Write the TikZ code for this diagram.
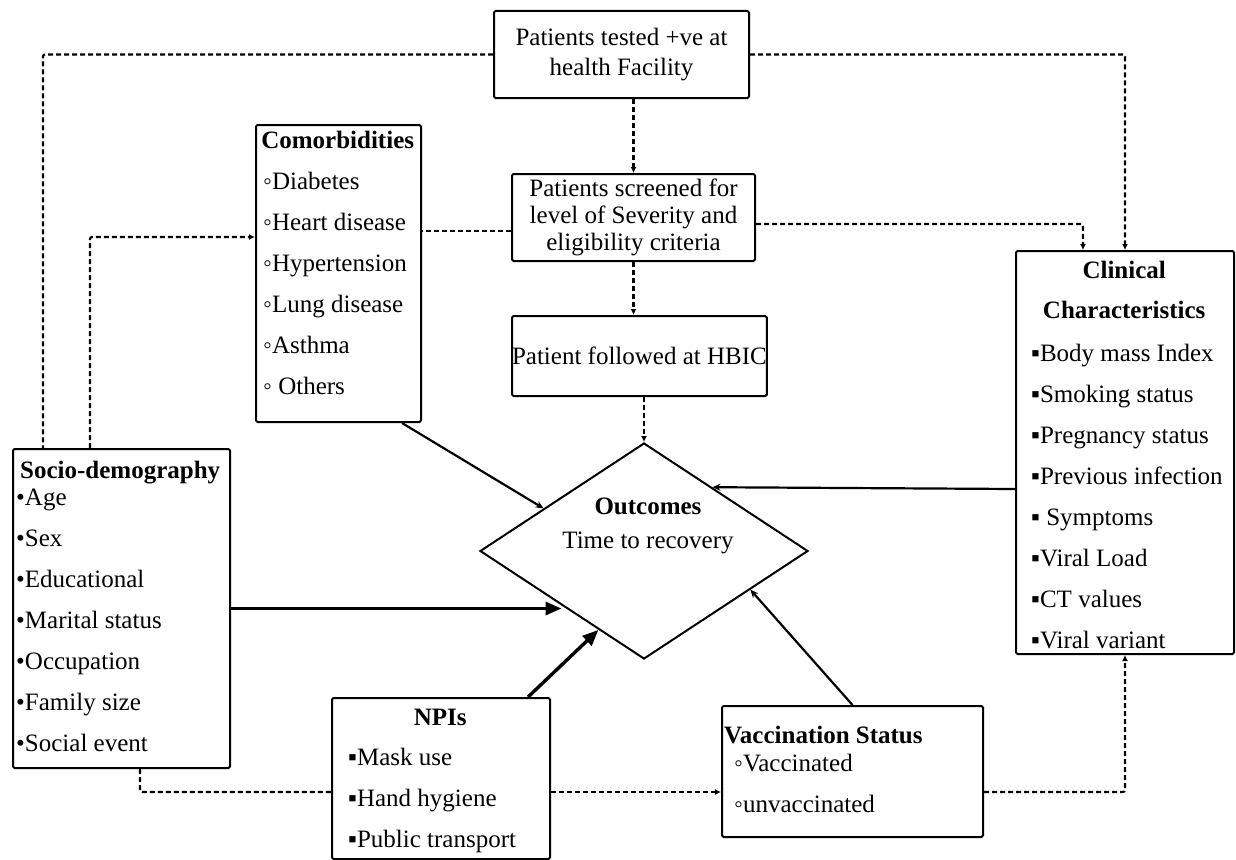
\documentclass[tikz,border=0pt]{standalone}
\usepackage{fontspec}
\setmainfont{Liberation Serif}
\usetikzlibrary{
    shapes.geometric,
    arrows.meta,
    positioning,
    calc
}

\begin{document}
\begin{tikzpicture}[
    x=1pt, y=-1pt,
    boxframe/.style={draw, line width=2pt, rounded corners=1.5pt, fill=white, inner sep=0pt, anchor=north west},
    plaintext/.style={font=\fontsize{25}{#1}\selectfont, align=center, inner sep=0pt},
    listtext/.style={anchor=north west, inner sep=0pt, align=left, font=\fontsize{25}{41}\selectfont},
    dashlink/.style={line width=2.1pt, dash pattern=on 5pt off 3pt, rounded corners=2pt},
    dasharrow/.style={dashlink, -{Latex[length=6pt,width=6pt]}},
    thinarrow/.style={line width=2.2pt, -{Stealth[length=8pt,width=7pt]}},
    thickarrow/.style={line width=3.4pt, -{Triangle[length=16pt,width=13pt]}}
]
    \useasboundingbox (0,0) rectangle (1236,859);

    \node[boxframe, minimum width=255pt, minimum height=87pt, plaintext=30] (tested) at (493,10) {Patients tested +ve at\\health Facility};
    \node[boxframe, minimum width=243pt, minimum height=87pt, plaintext=27] (screened) at (511,173) {Patients screened for\\level of Severity and\\eligibility criteria};
    \node[boxframe, minimum width=254pt, minimum height=80pt, plaintext=30] (hbic) at (511,315) {Patient followed at HBIC};

    \node[boxframe, minimum width=165pt, minimum height=297pt] (comorb) at (255,124) {};
    \node[listtext] (comorbtxt) at (263,131) {\makebox[149pt]{\textbf{Comorbidities}}\\◦Diabetes\\◦Heart disease\\◦Hypertension\\◦Lung disease\\◦Asthma\\◦ Others};

    \node[boxframe, minimum width=217pt, minimum height=319pt] (socio) at (12,448) {};
    \node[listtext] (sociotxt) at (16,461) {\makebox[208pt]{\textbf{Socio-demography}}\\[-14pt]•Age\\•Sex\\•Educational\\•Marital status\\•Occupation\\•Family size\\•Social event};

    \node[boxframe, minimum width=218pt, minimum height=403pt] (clinical) at (1015,250) {};
    \node[listtext] (clinicaltxt) at (1031,261) {\makebox[186pt]{\textbf{Clinical}}\\[-1pt]\makebox[186pt]{\textbf{Characteristics}}\\[2pt]▪Body mass Index\\▪Smoking status\\▪Pregnancy status\\▪Previous infection\\▪ Symptoms\\▪Viral Load\\▪CT values\\▪Viral variant};

    \node[boxframe, minimum width=218pt, minimum height=161pt] (npis) at (331,697) {};
    \node[listtext] (npistxt) at (348,709) {\makebox[184pt]{\textbf{NPIs}}\\[-1pt]▪Mask use\\▪Hand hygiene\\▪Public transport};

    \node[boxframe, minimum width=261pt, minimum height=131pt] (vacc) at (721,705) {};
    \node[listtext] (vacctxt) at (724,726) {\textbf{Vaccination Status}\\[-13pt]\hspace*{10pt}◦Vaccinated\\\hspace*{10pt}◦unvaccinated};

    \node[draw, diamond, line width=2pt, minimum width=328pt, minimum height=216pt, inner sep=0pt, fill=white] (outc) at (644,551) {};
    \node[plaintext=34] (outctxt) at (648,526) {\textbf{Outcomes}\\Time to recovery};

    \draw[dashlink] (tested.west) -| ([xshift=31pt]socio.north west);
    \draw[dasharrow] ([xshift=78pt]socio.north west) |- ([yshift=36.5pt]comorb.west);
    \draw[dashlink] ([yshift=-13.5pt]screened.west) -- ([yshift=-13.5pt]screened.west -| comorb.east);
    \draw[dasharrow] (tested.south -| screened.north) -- (screened.north);
    \draw[dasharrow] (screened.south) -- (screened.south |- hbic.north);
    \draw[dasharrow] (hbic.south -| outc.north) -- (outc.north);
    \draw[dasharrow] ([yshift=-6.5pt]screened.east) -| ([xshift=-42pt]clinical.north);
    \draw[dasharrow] (tested.east) -| (clinical.north);
    \draw[dashlink] ([xshift=128pt]socio.south west) |- ([yshift=-13.5pt]npis.west);
    \draw[dasharrow] ([yshift=-13.5pt]npis.east) -- ([yshift=-13.5pt]npis.east -| vacc.west);
    \draw[dasharrow] ([yshift=-20.5pt]vacc.east) -| (clinical.south);

    \draw[thinarrow] ([xshift=-20pt]comorb.south east) -- (outc.157);
    \draw[thickarrow] (socio.east) -- (socio.east -| outc.south west);
    \draw[thickarrow] ([xshift=-23pt]npis.north east) -- (outc.240);
    \draw[thinarrow] (vacc.north) -- (outc.340);
    \draw[thinarrow] ([yshift=-36.5pt]clinical.west) -- (outc.43);
\end{tikzpicture}
\end{document}
